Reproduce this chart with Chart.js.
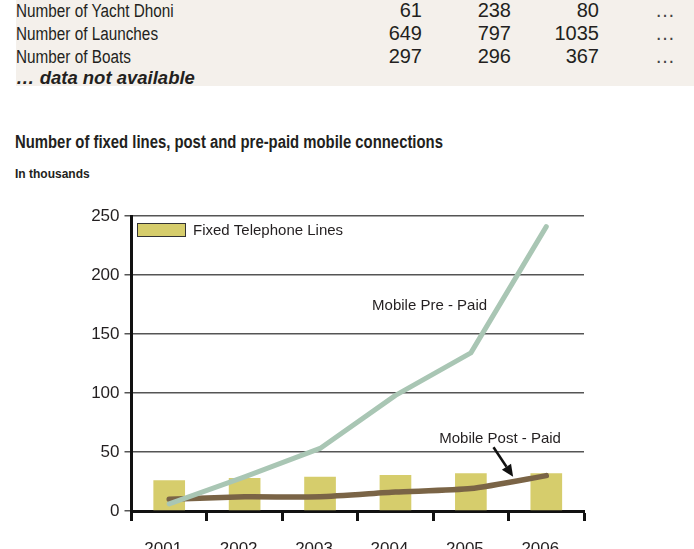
<!DOCTYPE html>
<html><head><meta charset="utf-8">
<script src="https://cdn.jsdelivr.net/npm/chart.js@4.4.1/dist/chart.umd.min.js"></script>
<style>
html,body{margin:0;padding:0;width:694px;height:549px;overflow:hidden;background:#fff;font-family:"Liberation Sans",Arial,sans-serif;color:#231f20}
.t{position:absolute;white-space:nowrap;line-height:1}
#bg{position:absolute;left:16px;top:0;width:678px;height:86px;background:#f4f0eb}
.lab{font-size:18px;transform:scaleX(0.85);transform-origin:0 0}
.num{font-size:20px;text-align:right;width:80px}
.ell{font-size:20px;color:#444}
#note{left:16px;top:69px;font-size:18.5px;font-weight:bold;font-style:italic}
#title{left:15px;top:133px;font-size:18px;font-weight:bold;transform:scaleX(0.826);transform-origin:0 0}
#sub{left:15px;top:168px;font-size:12px;font-weight:bold}
#c{position:absolute;left:0;top:190px}
</style></head>
<body>
<div id="bg"></div>
<div id="tbl"></div>
<div class="t" id="note">… data not available</div>
<div class="t" id="title">Number of fixed lines, post and pre-paid mobile connections</div>
<div class="t" id="sub">In thousands</div>
<canvas id="c" width="694" height="359"></canvas>
<script>
// ---- table data ----
const tableRows = ['Number of Yacht Dhoni', 'Number of Launches', 'Number of Boats'];
const yachtDhoni = [61, 238, 80];
const launches = [649, 797, 1035];
const boats = [297, 296, 367];
const notAvailable = '…';

// ---- chart data ----
const years = ['2001', '2002', '2003', '2004', '2005', '2006'];
const fixedLines = [26, 28, 29, 30.5, 32, 32];
const prePaid = [6, 29, 53, 98, 134, 241];
const postPaid = [10, 12, 12, 16, 19, 30];
const yTickValues = [0, 50, 100, 150, 200, 250];

// ---- build the table ----
(function(){
  const tbl = document.getElementById('tbl');
  const vals = [yachtDhoni, launches, boats];
  const colRight = [422, 511, 599];
  tableRows.forEach((name, r) => {
    const top = r * 23;
    const l = document.createElement('div');
    l.className = 't lab'; l.textContent = name;
    l.style.left = '16px'; l.style.top = (top + 1.5) + 'px';
    tbl.appendChild(l);
    vals[r].forEach((v, c) => {
      const d = document.createElement('div');
      d.className = 't num'; d.textContent = v;
      d.style.left = (colRight[c] - 80) + 'px'; d.style.top = top + 'px';
      tbl.appendChild(d);
    });
    const e = document.createElement('div');
    e.className = 't ell'; e.textContent = notAvailable;
    e.style.left = '655px'; e.style.top = top + 'px';
    tbl.appendChild(e);
  });
})();

// ---- annotation config (data-space anchors) ----
const labelNotes = [
  {text: 'Mobile Pre - Paid', x: 2.69, y: 174},
  {text: 'Mobile Post - Paid', x: 3.58, y: 61}
];
const arrowNote = {from: [4.30, 54], to: [4.56, 29]};

const notesPlugin = {
  id: 'notes',
  afterDatasetsDraw(chart) {
    const {ctx, scales: {x, y}} = chart;
    ctx.save();
    ctx.font = '15px "Liberation Sans", Arial, sans-serif';
    ctx.fillStyle = '#231f20';
    ctx.textAlign = 'left';
    ctx.textBaseline = 'middle';
    labelNotes.forEach(n => ctx.fillText(n.text, x.getPixelForValue(n.x), y.getPixelForValue(n.y)));
    const x1 = x.getPixelForValue(arrowNote.from[0]), y1 = y.getPixelForValue(arrowNote.from[1]);
    const x2 = x.getPixelForValue(arrowNote.to[0]), y2 = y.getPixelForValue(arrowNote.to[1]);
    const ang = Math.atan2(y2 - y1, x2 - x1);
    const hl = 12, hw = 5.5;
    const bx = x2 - hl * Math.cos(ang), by = y2 - hl * Math.sin(ang);
    ctx.strokeStyle = '#111'; ctx.fillStyle = '#111'; ctx.lineWidth = 2.5;
    ctx.beginPath(); ctx.moveTo(x1, y1); ctx.lineTo(bx, by); ctx.stroke();
    ctx.beginPath();
    ctx.moveTo(x2, y2);
    ctx.lineTo(bx + hw * Math.sin(ang), by - hw * Math.cos(ang));
    ctx.lineTo(bx - hw * Math.sin(ang), by + hw * Math.cos(ang));
    ctx.closePath(); ctx.fill();
    ctx.restore();
  }
};

// legend drawn inside the chart area, from the bar dataset
const innerLegend = {
  id: 'innerLegend',
  afterDraw(chart) {
    const {ctx, chartArea} = chart;
    const ds = chart.data.datasets.find(d => d.type === 'bar');
    const bx = chartArea.left + 5.5, by = chartArea.top + 7, bw = 49, bh = 14;
    ctx.save();
    ctx.fillStyle = ds.backgroundColor;
    ctx.fillRect(bx, by, bw, bh);
    ctx.strokeStyle = '#333'; ctx.lineWidth = 1;
    ctx.strokeRect(bx + 0.5, by + 0.5, bw - 1, bh - 1);
    ctx.font = '15px "Liberation Sans", Arial, sans-serif';
    ctx.fillStyle = '#231f20';
    ctx.textAlign = 'left'; ctx.textBaseline = 'middle';
    ctx.fillText(ds.label, bx + bw + 7, by + bh / 2 + 0.5);
    ctx.restore();
  }
};

const FONT = '"Liberation Sans", Arial, sans-serif';
new Chart(document.getElementById('c'), {
  type: 'bar',
  data: {
    labels: years,
    datasets: [
      {type: 'line', label: 'Mobile Pre - Paid', data: prePaid, borderColor: '#a9c6b4', borderWidth: 5,
       pointRadius: 0, tension: 0, borderCapStyle: 'round', borderJoinStyle: 'round', order: 0},
      {type: 'line', label: 'Mobile Post - Paid', data: postPaid, borderColor: '#7a6446', borderWidth: 5.5,
       pointRadius: 0, tension: 0.2, borderCapStyle: 'round', borderJoinStyle: 'round', order: 1},
      {type: 'bar', label: 'Fixed Telephone Lines', data: fixedLines, backgroundColor: '#d6cd6c',
       borderWidth: 0, barPercentage: 0.42, categoryPercentage: 1, order: 2}
    ]
  },
  options: {
    responsive: false,
    animation: false,
    devicePixelRatio: 1,
    layout: {padding: {left: 0, right: 110, top: 26, bottom: 0}},
    scales: {
      x: {
        offset: true,
        afterFit(s) { s.height = 38; },
        grid: {display: true, offset: true, drawOnChartArea: false, drawTicks: true, tickLength: 10,
               tickWidth: 3, tickColor: '#111', color: '#111'},
        border: {display: true, color: '#111', width: 3},
        ticks: {font: {family: FONT, size: 17}, color: '#231f20', padding: 18, labelOffset: -6, maxRotation: 0}
      },
      y: {
        min: 0, max: 250,
        afterFit(s) { s.width = 131.5; },
        afterBuildTicks(s) { s.ticks = yTickValues.map(v => ({value: v})); },
        grid: {color: c => (c.tick && c.tick.value === 0) ? '#111' : '#555', lineWidth: 1.5,
               drawTicks: true, tickLength: 7, tickColor: '#555'},
        border: {display: true, color: '#111', width: 3},
        ticks: {font: {family: FONT, size: 17}, color: '#231f20', padding: 5}
      }
    },
    plugins: {
      tooltip: {enabled: false},
      legend: {display: false}
    }
  },
  plugins: [notesPlugin, innerLegend]
});
</script>
</body></html>
